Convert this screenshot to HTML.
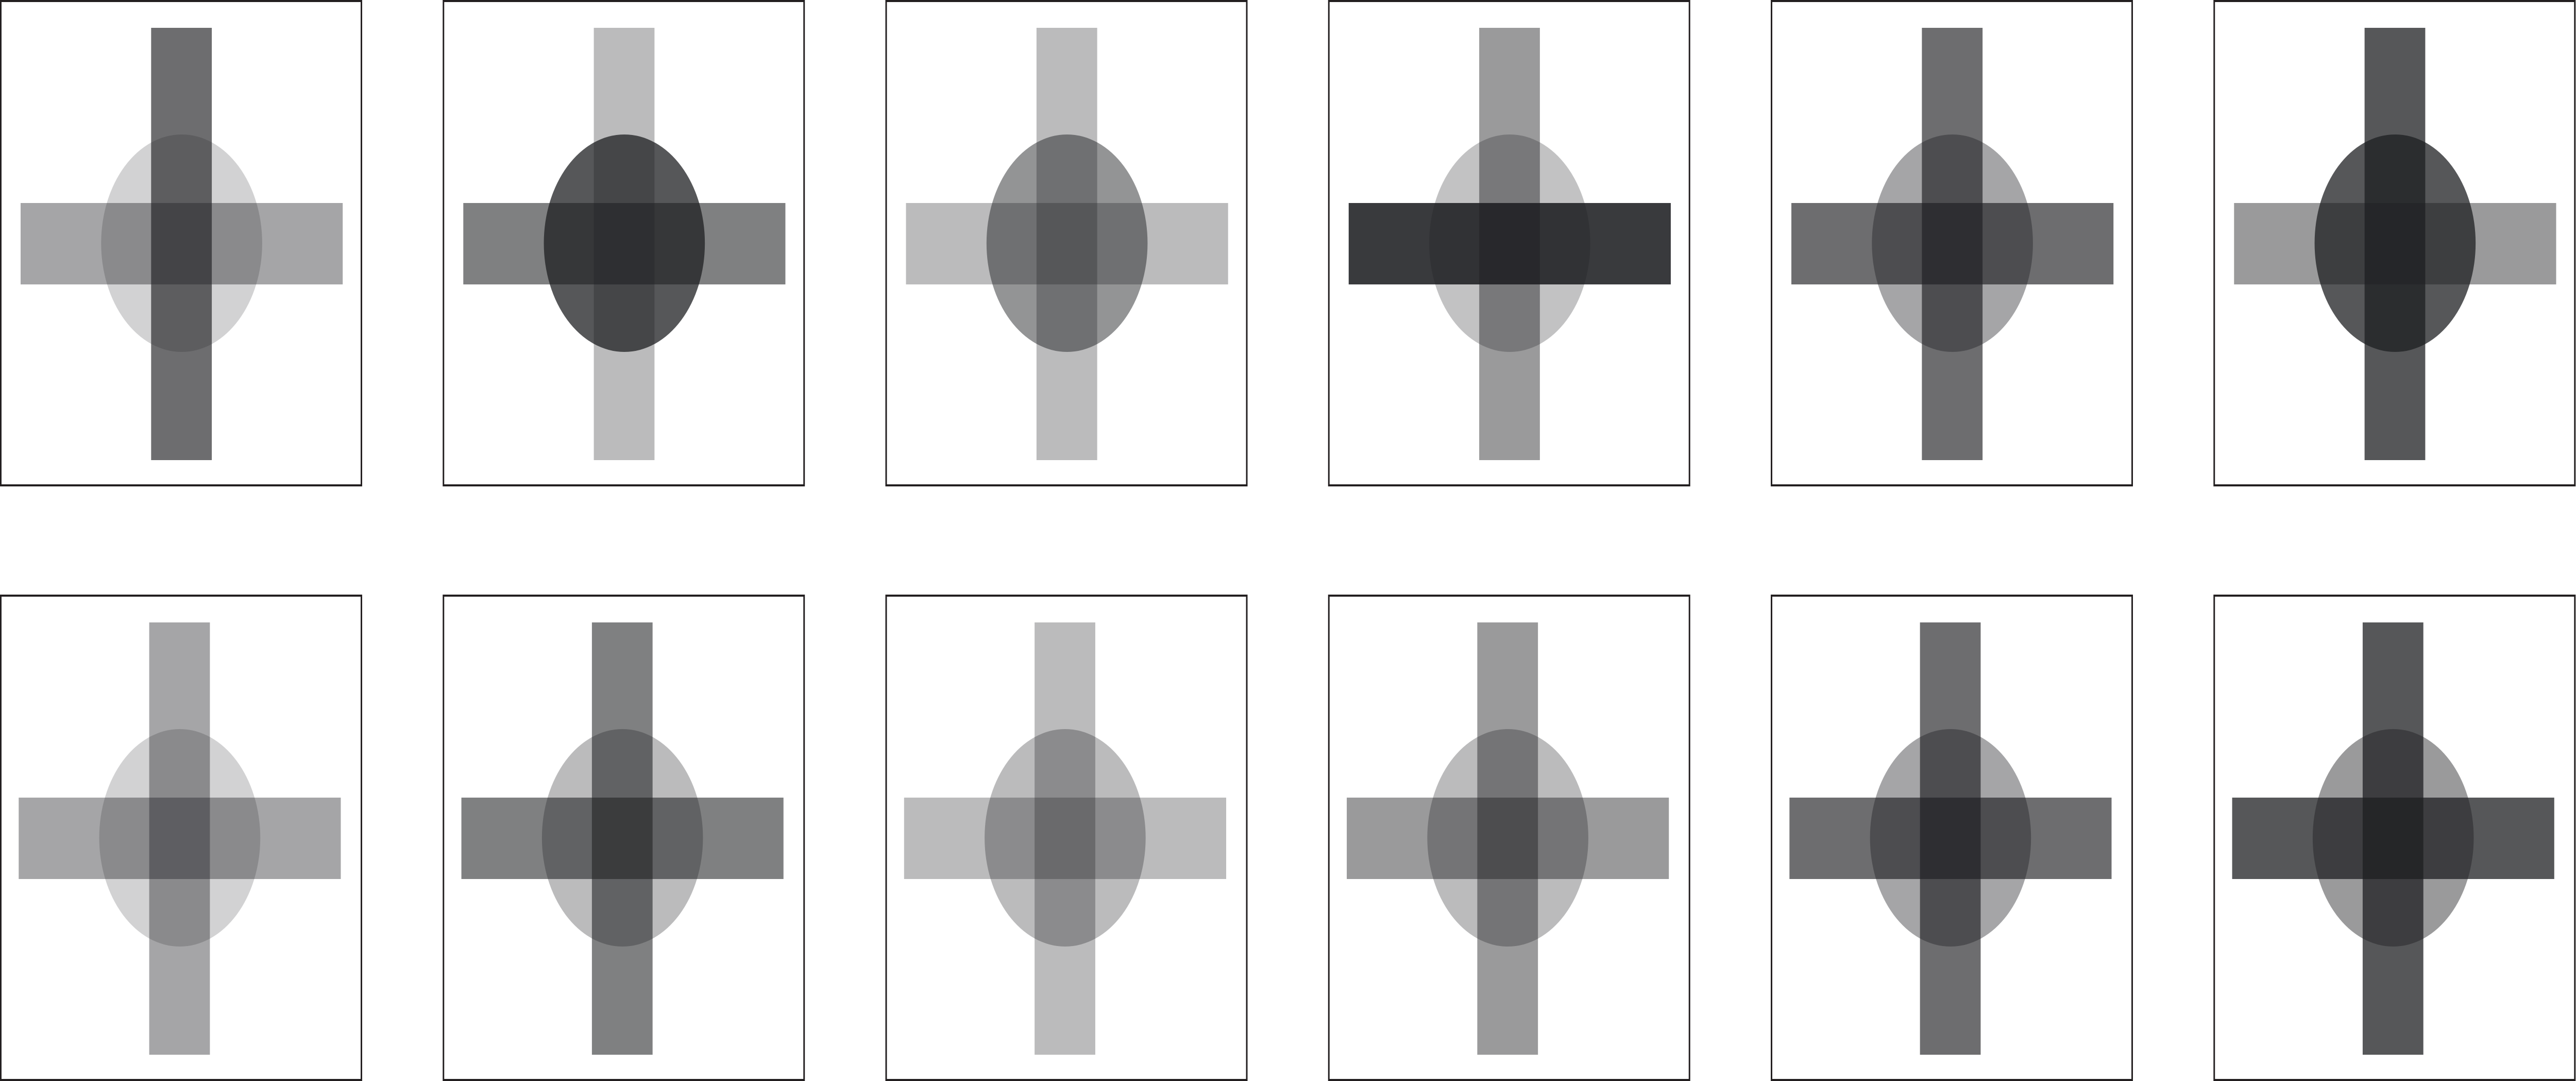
<!DOCTYPE html>
<html><head><meta charset="utf-8">
<style>html,body{margin:0;padding:0;background:#fff;width:100%;height:100%;overflow:hidden;}svg{display:block;width:100vw;height:100vh;}</style>
</head><body>
<svg id="chart" viewBox="0 0 6750 2098" preserveAspectRatio="none" xmlns="http://www.w3.org/2000/svg"></svg>
<script>
// Opacity of the vertical bar, horizontal bar and circle in each panel (row-major order)
const panelIds = ['r1c1','r1c2','r1c3','r1c4','r1c5','r1c6','r2c1','r2c2','r2c3','r2c4','r2c5','r2c6'];
const verticalOpacity   = [0.65,0.30,0.30,0.45,0.65,0.75, 0.40,0.57,0.30,0.45,0.65,0.75];
const horizontalOpacity = [0.40,0.57,0.30,0.88,0.65,0.45, 0.40,0.57,0.30,0.45,0.65,0.75];
const circleOpacity     = [0.20,0.75,0.48,0.27,0.40,0.75, 0.20,0.30,0.30,0.30,0.40,0.45];

const svg = document.getElementById('chart');
const NS = 'http://www.w3.org/2000/svg';
const INK = '#1e1f22';
const colLeft = c => Math.round(c * 1160);
const rowTop = r => r === 0 ? 0 : 1154;
const PW = 947, PH = 942;

function mk(tag, attrs){ const e = document.createElementNS(NS, tag); for (const k in attrs) e.setAttribute(k, attrs[k]); return e; }

panelIds.forEach((id, i) => {
  const r = Math.floor(i / 6), c = i % 6;
  const x0 = colLeft(c), y0 = rowTop(r);
  const dx = r === 0 ? 0 : -5;
  const g = mk('g', {transform: `translate(${x0},${y0})`});
  
  

  const frame = mk('rect', {x: 2, y: 2, width: PW - 2, height: PH - 2, fill: '#fff', stroke: '#231f20', 'stroke-width': 4});
  
  
  g.appendChild(frame);

  const hbar = mk('rect', {x: 54 + dx, y: 394, width: 844, height: 158, fill: INK, 'fill-opacity': horizontalOpacity[i]});
  
  
  g.appendChild(hbar);

  const vbar = mk('rect', {x: 396 + dx, y: 54, width: 159, height: 839, fill: INK, 'fill-opacity': verticalOpacity[i]});
  
  
  g.appendChild(vbar);

  const circ = mk('circle', {cx: 476 + dx, cy: 472, r: 211, fill: INK, 'fill-opacity': circleOpacity[i]});
  
  
  g.appendChild(circ);

  svg.appendChild(g);
});
</script>
</body></html>
